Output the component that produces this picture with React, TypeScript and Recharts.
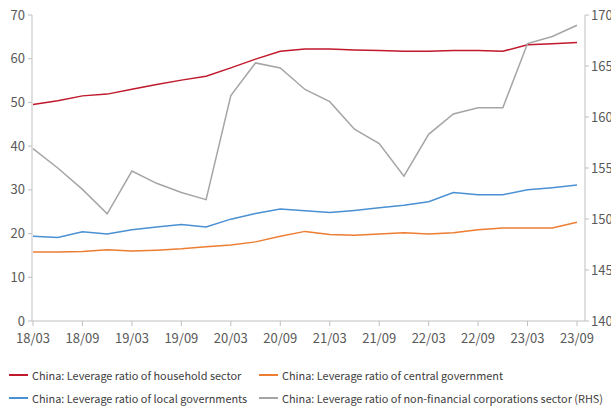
import { LineChart, Line, XAxis, YAxis } from "recharts";

const quarters = [
  "18/03", "18/06", "18/09", "18/12", "19/03", "19/06", "19/09", "19/12",
  "20/03", "20/06", "20/09", "20/12", "21/03", "21/06", "21/09", "21/12",
  "22/03", "22/06", "22/09", "22/12", "23/03", "23/06", "23/09",
];

const household = [
  49.5, 50.4, 51.5, 51.9, 53.0, 54.1, 55.1, 56.0, 57.9, 59.9, 61.7, 62.2,
  62.2, 62.0, 61.9, 61.7, 61.7, 61.9, 61.9, 61.7, 63.2, 63.4, 63.7,
];

const centralGov = [
  15.8, 15.8, 15.9, 16.3, 16.0, 16.2, 16.5, 17.0, 17.4, 18.1, 19.4, 20.5,
  19.8, 19.6, 19.9, 20.2, 19.9, 20.2, 20.9, 21.3, 21.3, 21.3, 22.6,
];

const localGov = [
  19.4, 19.1, 20.4, 19.9, 20.9, 21.5, 22.1, 21.5, 23.3, 24.6, 25.6, 25.2,
  24.8, 25.3, 25.9, 26.5, 27.3, 29.4, 28.9, 28.9, 30.0, 30.5, 31.1,
];

const corporate = [
  156.9, 155.0, 152.9, 150.5, 154.7, 153.5, 152.6, 151.9, 162.1, 165.3,
  164.8, 162.7, 161.5, 158.8, 157.4, 154.2, 158.3, 160.3, 160.9, 160.9,
  167.2, 167.9, 169.0,
];

const leftTicks = [0, 10, 20, 30, 40, 50, 60, 70];
const rightTicks = [140, 145, 150, 155, 160, 165, 170];

const series = [
  { key: "household", name: "China: Leverage ratio of household sector", color: "#C0192B", axis: "left" },
  { key: "central", name: "China: Leverage ratio of central government", color: "#ED7D31", axis: "left" },
  { key: "local", name: "China: Leverage ratio of local governments", color: "#4A90D2", axis: "left" },
  { key: "corporate", name: "China: Leverage ratio of non-financial corporations sector (RHS)", color: "#A5A5A5", axis: "right" },
];

const data = quarters.map((q, i) => ({
  q,
  household: household[i],
  central: centralGov[i],
  local: localGov[i],
  corporate: corporate[i],
}));

const font = "'Noto Sans CJK SC', 'Noto Sans', sans-serif";
const axisColor = "#BFBFBF";
const tickStyle = { fill: "#595959", fontSize: 13, fontFamily: font };

export default function App() {
  return (
    <div style={{ position: "absolute", left: 0, top: 0, width: 611, height: 406, background: "#fff", overflow: "hidden" }}>
      <LineChart
        width={611}
        height={355}
        data={data}
        margin={{ top: 15, right: 0, left: 0, bottom: 0 }}
      >
        <XAxis
          dataKey="q"
          interval={1}
          height={34}
          padding={{ left: 1, right: 8 }}
          tick={tickStyle}
          tickSize={5}
          tickMargin={8}
          stroke={axisColor}
        />
        <YAxis
          yAxisId="left"
          domain={[0, 70]}
          ticks={leftTicks}
          width={32}
          tick={tickStyle}
          tickSize={4}
          tickMargin={3}
          stroke={axisColor}
        />
        <YAxis
          yAxisId="right"
          orientation="right"
          domain={[140, 170]}
          ticks={rightTicks}
          width={26}
          tick={tickStyle}
          tickSize={4}
          tickMargin={2}
          stroke={axisColor}
        />
        {series.map((s) => (
          <Line
            key={s.key}
            yAxisId={s.axis}
            dataKey={s.key}
            name={s.name}
            stroke={s.color}
            strokeWidth={1.5}
            dot={false}
            type="linear"
            isAnimationActive={false}
          />
        ))}
      </LineChart>
      <div
        style={{
          position: "absolute",
          left: 9,
          top: 366,
          width: 602,
          display: "grid",
          gridTemplateColumns: "250px auto",
          rowGap: 5,
          fontFamily: font,
          fontSize: 10.9,
          color: "#404040",
          whiteSpace: "nowrap",
        }}
      >
        {series.map((s) => (
          <div key={s.key} style={{ display: "flex", alignItems: "center", height: 18 }}>
            <span style={{ display: "inline-block", width: 19, height: 2, background: s.color, marginRight: 4 }} />
            {s.name}
          </div>
        ))}
      </div>
    </div>
  );
}
